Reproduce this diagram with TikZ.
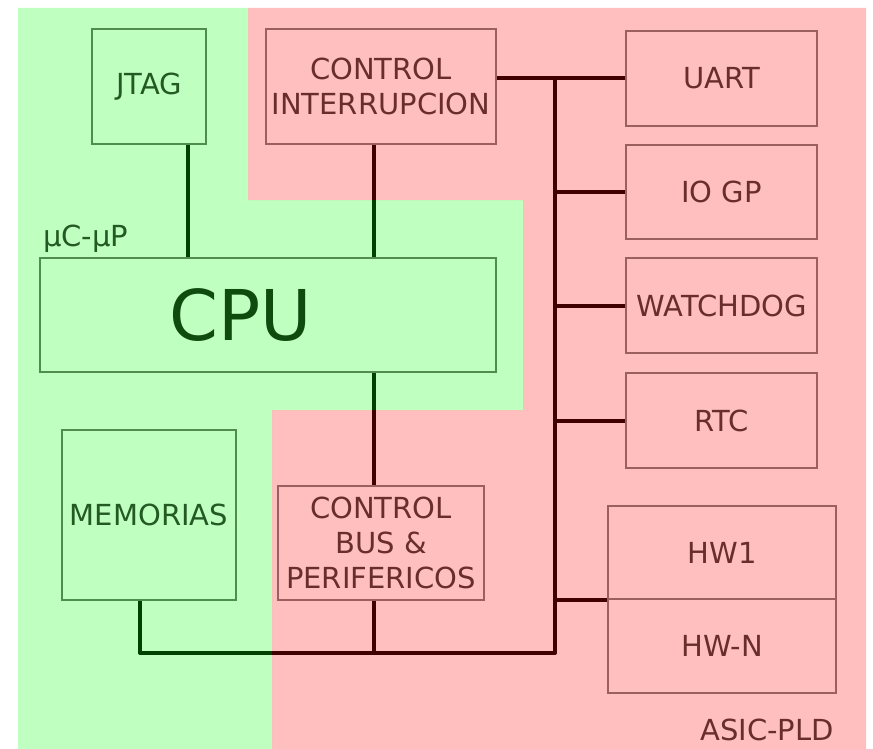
\documentclass[tikz,border=0pt]{standalone}
\usepackage{fontspec}
\setmainfont{DejaVu Sans}
\definecolor{gborder}{RGB}{80,140,80}
\definecolor{gtext}{RGB}{35,90,35}
\definecolor{gdark}{RGB}{15,75,15}
\definecolor{pborder}{RGB}{155,95,95}
\definecolor{ptext}{RGB}{105,45,45}
\pgfdeclarelayer{wires}
\pgfdeclarelayer{tint}
\pgfsetlayers{wires,tint,main}
\tikzset{
  lbl/.style={font=\fontsize{29}{35}\selectfont, align=center, inner sep=0pt},
  gbox/.style={lbl, draw=gborder, line width=1.2pt, text=gtext, rectangle},
  pbox/.style={lbl, draw=pborder, line width=1.2pt, text=ptext, rectangle},
  wire/.style={line width=4pt, black, line join=round}
}
\begin{document}
\begin{tikzpicture}[x=1pt, y=-1pt]
\useasboundingbox (0,0) rectangle (873,749);
% nodes
\node[gbox, minimum width=114pt, minimum height=115pt] (jtag) at (149,86.5) {JTAG};
\node[pbox, minimum width=230pt, minimum height=115pt] (ci) at (381,86.5) {CONTROL\\INTERRUPCION};
\node[pbox, minimum width=191pt, minimum height=95pt] (uart) at (721.5,78.5) {UART};
\node[pbox, minimum width=191pt, minimum height=94pt] (iogp) at (721.5,192) {IO GP};
\node[pbox, minimum width=191pt, minimum height=95pt] (wd) at (721.5,305.5) {WATCHDOG};
\node[pbox, minimum width=191pt, minimum height=95pt] (rtc) at (721.5,420.5) {RTC};
\node[pbox, minimum width=228pt, minimum height=93pt] (hw1) at (722,552.5) {HW1};
\node[pbox, minimum width=228pt, minimum height=94pt] (hwn) at (722,646) {HW-N};
\node[gbox, minimum width=456pt, minimum height=114pt] (cpu) at (268,315) {};
\node[lbl, text=gdark, font=\fontsize{70}{80}\selectfont] (cputext) at (241,315) {CPU};
\node[gbox, minimum width=174pt, minimum height=170pt] (mem) at (149,515) {MEMORIAS};
\node[pbox, minimum width=206pt, minimum height=114pt] (cb) at (381,543) {CONTROL\\BUS \&\\PERIFERICOS};
\node[lbl, text=gtext, anchor=west] (ucup) at (43,239) {μC-μP};
\node[lbl, text=ptext] (asic) at (767,730) {ASIC-PLD};
% connector points
\coordinate (jt) at ([xshift=39pt]jtag.south);
\coordinate (ci1) at ([xshift=-7pt]ci.south);
\coordinate (cb1) at ([xshift=-7pt]cb.north);
\coordinate (cb2) at ([xshift=-7pt]cb.south);
\coordinate (m1) at ([xshift=-9pt]mem.south);
\coordinate (bx) at (555,653);
\begin{pgfonlayer}{wires}
\fill[white] (0,0) rectangle (873,749);
\begin{scope}[wire]
\draw (jt) -- (jt |- cpu.north);
\draw (ci1) -- (ci1 |- cpu.north);
\draw (cb1 |- cpu.south) -- (cb1);
\draw (uart.west) -- (uart.west -| ci.east);
\draw (m1) -- (m1 |- bx) -- (bx) -- (bx |- uart.west);
\draw (iogp.west) -- (iogp.west -| bx);
\draw (wd.west) -- (wd.west -| bx);
\draw (rtc.west) -- (rtc.west -| bx);
\draw (hw1.south west) -- (hw1.south west -| bx);
\draw (cb2) -- (cb2 |- bx);
\end{scope}
\end{pgfonlayer}
\begin{pgfonlayer}{tint}
\fill[green, opacity=0.25] (18,8) -- (248,8) -- (248,200) -- (523,200) -- (523,410) -- (272,410) -- (272,749) -- (18,749) -- cycle;
\fill[red, opacity=0.25] (248,8) -- (866,8) -- (866,749) -- (272,749) -- (272,410) -- (523,410) -- (523,200) -- (248,200) -- cycle;
\end{pgfonlayer}
\end{tikzpicture}
\end{document}
